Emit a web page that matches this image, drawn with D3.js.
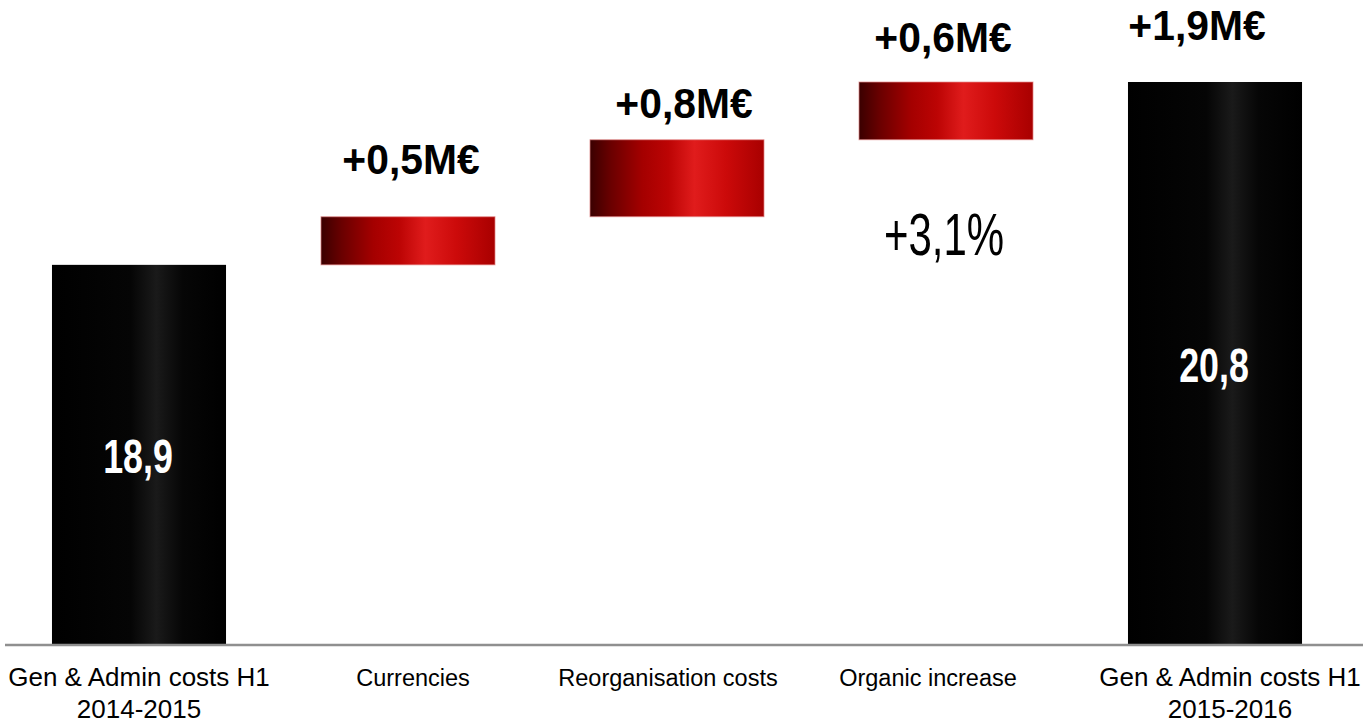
<!DOCTYPE html>
<html>
<head>
<meta charset="utf-8">
<script src="https://cdn.jsdelivr.net/npm/d3@7"></script>
<style>
  html, body { margin: 0; padding: 0; background: #fff; }
  svg { display: block; }
</style>
</head>
<body>
<svg id="chart" width="1363" height="725"></svg>
<script>
// G&A cost bridge, H1 2014-2015 to H1 2015-2016 (M€)
const categories = [
  ["Gen & Admin costs H1", "2014-2015"],
  ["Currencies"],
  ["Reorganisation costs"],
  ["Organic increase"],
  ["Gen & Admin costs H1", "2015-2016"]
];
const startValue = 18.9;
const steps = [0.5, 0.8, 0.6];       // currencies, reorganisation, organic
const organicGrowthLabel = "+3,1%";
const axisFloor = 14.95;              // value at the baseline of the truncated axis

const endValue = +(startValue + d3.sum(steps)).toFixed(1);

// Waterfall segments
const segs = [];
segs.push({ kind: "total", from: axisFloor, to: startValue, value: startValue });
let run = startValue;
steps.forEach(s => { segs.push({ kind: "step", from: run, to: run + s, value: s }); run += s; });
segs.push({ kind: "total", from: axisFloor, to: endValue, value: endValue, delta: endValue - startValue });

const fmt = v => d3.format(".1f")(v).replace(".", ",");

const svg = d3.select("#chart");
const W = 1363, H = 725;

const x = d3.scaleBand()
  .domain(d3.range(categories.length))
  .range([4.5, 1349.5])
  .paddingInner(0.353)
  .paddingOuter(0.1765);

const y = d3.scaleLinear().domain([axisFloor, endValue]).range([645, 82]);

// Gradients
const defs = svg.append("defs");
const redG = defs.append("linearGradient").attr("id", "redGrad").attr("x1", 0).attr("x2", 1).attr("y1", 0).attr("y2", 0);
[["0%", "#3a0000"], ["12%", "#6a0000"], ["30%", "#a40000"], ["45%", "#bc0404"], ["60%", "#e01c1c"], ["78%", "#cc0a0a"], ["100%", "#a80000"]]
  .forEach(([o, c]) => redG.append("stop").attr("offset", o).attr("stop-color", c));
const blkG = defs.append("linearGradient").attr("id", "blackGrad").attr("x1", 0).attr("x2", 1).attr("y1", 0).attr("y2", 0);
[["0%", "#000"], ["45%", "#050505"], ["60%", "#1a1a1a"], ["75%", "#060606"], ["100%", "#000"]]
  .forEach(([o, c]) => blkG.append("stop").attr("offset", o).attr("stop-color", c));

// Bars
svg.append("g").selectAll("rect")
  .data(segs)
  .join("rect")
  .attr("x", (d, i) => x(i))
  .attr("width", x.bandwidth())
  .attr("y", d => y(Math.max(d.from, d.to)))
  .attr("height", d => Math.abs(y(d.from) - y(d.to)))
  .attr("fill", d => d.kind === "step" ? "url(#redGrad)" : "url(#blackGrad)")
  .attr("stroke", d => d.kind === "step" ? "rgba(230,140,140,0.7)" : "none")
  .attr("stroke-width", 1);

// Baseline
svg.append("line")
  .attr("x1", 5).attr("x2", W)
  .attr("y1", y(axisFloor)).attr("y2", y(axisFloor))
  .attr("stroke", "#8f8f8f").attr("stroke-width", 2.5);

const font = "'Liberation Sans', Arial, Helvetica, sans-serif";

// Helper for horizontally condensed text
function squeezed(g, tx, ty, sx, text, size, weight, fill) {
  g.append("g")
    .attr("transform", `translate(${tx},${ty}) scale(${sx},1)`)
    .append("text")
    .attr("text-anchor", "middle")
    .attr("font-family", font)
    .attr("font-size", size)
    .attr("font-weight", weight)
    .attr("fill", fill)
    .text(text);
}

const labels = svg.append("g");
const cx = i => x(i) + x.bandwidth() / 2;

// Totals inside the black bars
[0, segs.length - 1].forEach(i => {
  const d = segs[i];
  const mid = (y(d.from) + y(d.to)) / 2;
  squeezed(labels, cx(i) - 1, mid + 18.5, 0.73, fmt(d.value), 49, "bold", "#fff");
});

// Change labels above the steps and the total
const lift = [null, 43, 22, 30, 42];
const nudge = [0, 3, 7, -3, -18];
segs.forEach((d, i) => {
  if (i === 0) return;
  const v = d.kind === "step" ? d.value : d.delta;
  squeezed(labels, cx(i) + nudge[i], y(Math.max(d.from, d.to)) - lift[i], 0.95,
    "+" + fmt(v) + "M€", 43, "bold", "#000");
});

// Organic growth percentage
squeezed(labels, cx(3) - 2, y(segs[3].from) + 115, 0.7, organicGrowthLabel, 60, "normal", "#000");

// Category labels
const catShift = [0, 5, -9, -18, 15];
const catSize = [26, 23.5, 23.5, 23.5, 26];
categories.forEach((lines, i) => {
  const t = svg.append("text")
    .attr("text-anchor", "middle")
    .attr("font-family", font)
    .attr("font-size", catSize[i])
    .attr("fill", "#000");
  lines.forEach((ln, k) => {
    t.append("tspan")
      .attr("x", cx(i) + catShift[i])
      .attr("y", 686 + k * 32)
      .text(ln);
  });
});
</script>
</body>
</html>
